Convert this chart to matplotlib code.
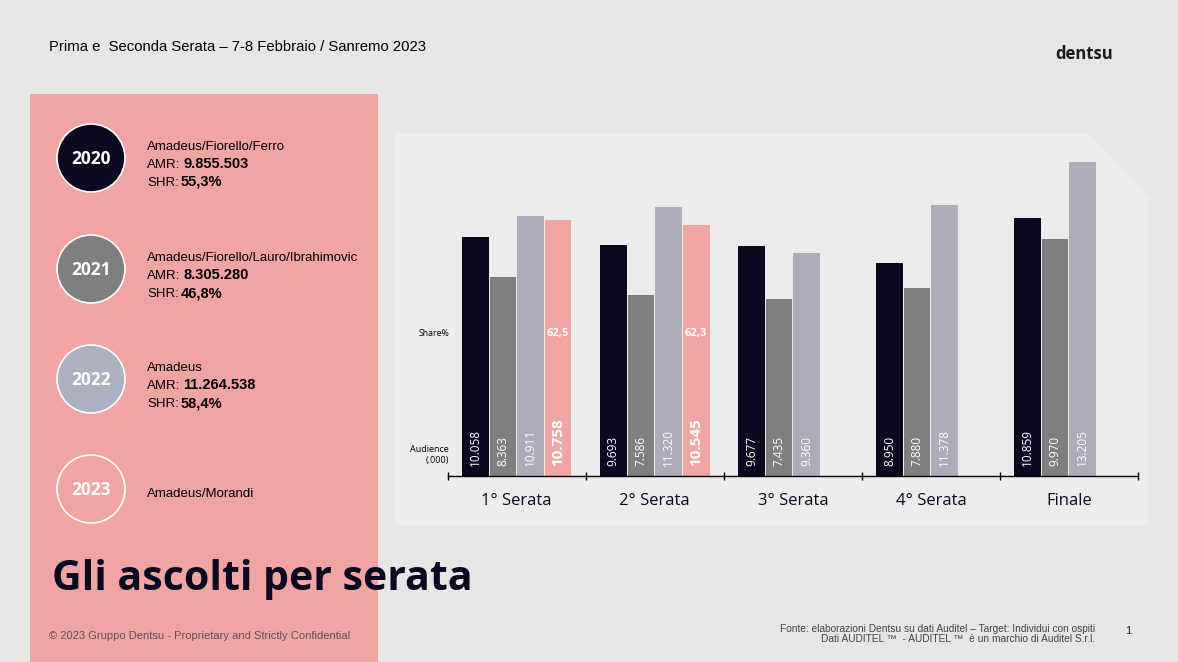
import numpy as np
import matplotlib.pyplot as plt
from matplotlib.patches import Rectangle, Circle, Polygon

# ---------------- Data ----------------
serate = ['1° Serata', '2° Serata', '3° Serata', '4° Serata', 'Finale']
aud_2020 = [10.058, 9.693, 9.677, 8.950, 10.859]
aud_2021 = [8.363, 7.586, 7.435, 7.880, 9.970]
aud_2022 = [10.911, 11.320, 9.360, 11.378, 13.205]
aud_2023 = [10.758, 10.545]
share_2023 = ['62,5', '62,3']

years = ['2020', '2021', '2022', '2023']
conduttori = ['Amadeus/Fiorello/Ferro', 'Amadeus/Fiorello/Lauro/Ibrahimovic',
              'Amadeus', 'Amadeus/Morandi']
amr = ['9.855.503', '8.305.280', '11.264.538', None]
shr = ['55,3%', '46,8%', '58,4%', None]

# ---------------- Style ----------------
NAVY = '#0a0920'
GREY = '#7f7f7f'
LILAC = '#adacbb'
PINK = '#f0a5a3'
BG = '#e6e6e6'
PANEL = '#ececec'
colors = [NAVY, GREY, LILAC, PINK]
circle_fill = [NAVY, GREY, '#adb0bf', PINK]

W, H = 1178, 662
fig = plt.figure(figsize=(W / 100, H / 100), dpi=100, facecolor=BG)

# background pieces, in pixel coords
bg = fig.add_axes([0, 0, 1, 1], zorder=0)
bg.set_xlim(0, W)
bg.set_ylim(H, 0)
bg.axis('off')
bg.add_patch(Rectangle((30, 94), 348, 570, color=PINK, lw=0))
bg.add_patch(Polygon([(395, 133), (1088, 133), (1148, 196), (1148, 525), (395, 525)],
                     closed=True, color=PANEL, lw=0))

# header
bg.text(49, 47, 'Prima e  Seconda Serata – 7-8 Febbraio / Sanremo 2023',
        family='Liberation Sans', fontsize=10.7, color='black', va='center')
bg.text(1113, 54, 'dentsu', family='Open Sans', fontweight='bold',
        fontsize=12, color='#1a1a1a', va='center', ha='right')

# year circles and info
cy = [158, 269, 379, 489]
for i, y in enumerate(years):
    bg.add_patch(Circle((91, cy[i]), 34, facecolor=circle_fill[i],
                        edgecolor='white', lw=1.2))
    bg.text(91, cy[i] + 1, y, color='white', fontsize=12.5, fontweight='bold',
            family='Open Sans', ha='center', va='center')
    if amr[i] is None:
        bg.text(147, cy[i] + 5, conduttori[i], family='Liberation Sans',
                fontsize=9.5, va='center')
        continue
    bg.text(147, cy[i] - 11, conduttori[i], family='Liberation Sans',
            fontsize=9.5, va='center')
    bg.text(147, cy[i] + 7, 'AMR:', family='Liberation Sans', fontsize=9.5, va='center')
    bg.text(183, cy[i] + 6, amr[i], family='Liberation Sans', fontsize=10.5,
            fontweight='bold', va='center')
    bg.text(147, cy[i] + 25, 'SHR:', family='Liberation Sans', fontsize=9.5, va='center')
    bg.text(181, cy[i] + 24, shr[i], family='Liberation Sans', fontsize=10.5,
            fontweight='bold', va='center')

# big title and footers
bg.text(52, 580, 'Gli ascolti per serata', family='Open Sans', fontweight='bold',
        fontsize=29.5, color=NAVY, va='center', ha='left')
bg.text(49, 636, '© 2023 Gruppo Dentsu - Proprietary and Strictly Confidential',
        family='Liberation Sans', fontsize=8, color='#555555', va='center')
bg.text(1095, 629, 'Fonte: elaborazioni Dentsu su dati Auditel – Target: Individui con ospiti',
        family='Liberation Sans', fontsize=7.3, color='#444444', va='center', ha='right')
bg.text(1095, 639, 'Dati AUDITEL ™  - AUDITEL ™  è un marchio di Auditel S.r.l.',
        family='Liberation Sans', fontsize=7.3, color='#444444', va='center', ha='right')
bg.text(1128, 631, '1', family='Liberation Sans', fontsize=8, color='#222222',
        va='center', ha='center')

# ---------------- Bar chart ----------------
ax = fig.add_axes([447.7 / W, 1 - 476 / H, 690.3 / W, 333.2 / H], zorder=1)
ax.patch.set_alpha(0)
ax.set_xlim(-0.5, len(serate) - 0.5)
ax.set_ylim(0, 14)

x = np.arange(len(serate))
slot = 0.2
bw = 0.193
series = [aud_2020, aud_2021, aud_2022, aud_2023]
for k, vals in enumerate(series):
    xs = x[:len(vals)] + (k - 1.5) * slot
    ax.bar(xs, vals, width=bw, color=colors[k], lw=0)
    for xi, v in zip(xs, vals):
        bold = k == 3
        ax.text(xi, 0.4, f'{v:.3f}', rotation=90, ha='center', va='bottom',
                color='white', fontsize=11 if bold else 8.5,
                fontweight='bold' if bold else 'normal', family='Open Sans')

for j, s in enumerate(share_2023):
    ax.text(x[j] + 1.5 * slot, 6.0, s, ha='center', va='center', color='white',
            fontsize=8, fontweight='bold', family='Open Sans')

ax.text(-0.49, 6.0, 'Share%', ha='right', va='center', fontsize=6.3,
        family='Open Sans', color='black')
ax.text(-0.49, 0.9, 'Audience\n(.000)', ha='right', va='center', fontsize=6.5,
        family='Open Sans', color='black', multialignment='right', linespacing=1.3)

for sp in ['top', 'right', 'left']:
    ax.spines[sp].set_visible(False)
ax.spines['bottom'].set_color('black')
ax.spines['bottom'].set_linewidth(1)
ax.set_yticks([])
ax.set_xticks(x)
ax.set_xticklabels(serate, family='Open Sans', fontsize=12, color=NAVY)
ax.tick_params(axis='x', which='major', length=0, pad=12)
ax.set_xticks(np.arange(-0.5, len(serate)), minor=True)
ax.tick_params(axis='x', which='minor', length=6, width=1, color='black', direction='inout')

fig.savefig('out.png', dpi=100, facecolor=BG)
